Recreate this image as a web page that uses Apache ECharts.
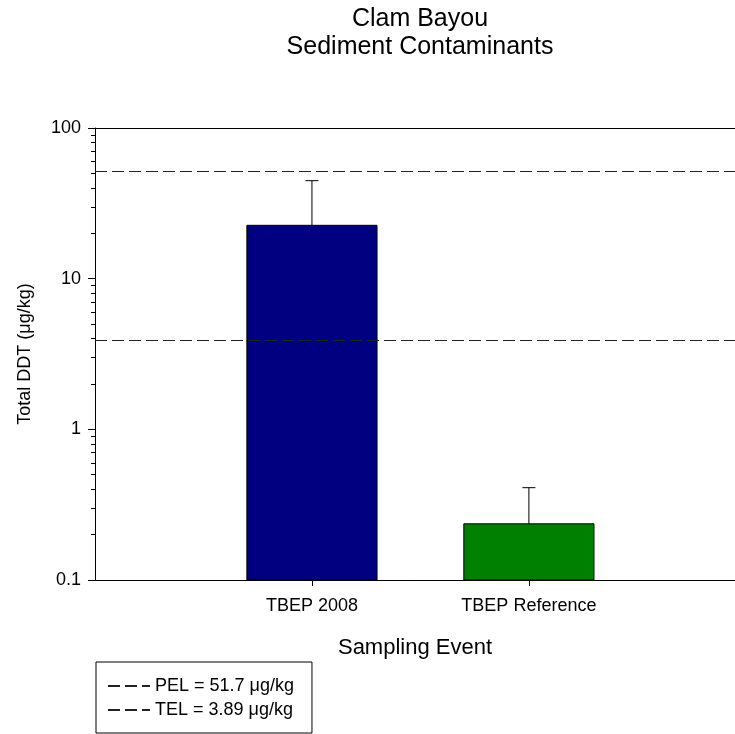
<!DOCTYPE html>
<html>
<head>
<meta charset="utf-8">
<script src="https://cdn.jsdelivr.net/npm/echarts@6/dist/echarts.min.js"></script>
<style>
  html, body { margin: 0; padding: 0; background: #fff; }
  #main { width: 735px; height: 734px; }
</style>
</head>
<body>
<div id="main"></div>
<script>
// data
var categories = ['TBEP 2008', 'TBEP Reference'];
var catPos = [1, 2];
var ddtMean = [22.6, 0.236];
var ddtUpper = [44.7, 0.41];
var barColors = ['#000080', '#008000'];
var pelValue = 51.7;
var telValue = 3.89;
var yMajorTicks = [0.1, 1, 10, 100];
var yMinorTicks = [0.2, 0.3, 0.4, 0.5, 0.6, 0.7, 0.8, 0.9,
                   2, 3, 4, 5, 6, 7, 8, 9,
                   20, 30, 40, 50, 60, 70, 80, 90];

var font = '"Liberation Sans", Arial, sans-serif';

var barData = [];
catPos.forEach(function (p, i) {
    barData.push([p, ddtMean[i], ddtUpper[i]]);
});

// bars + upper error bars, drawn down to the bottom of the grid (log axis)
function renderBar(params, api) {
    var x = api.value(0);
    var v = api.value(1);
    var up = api.value(2);
    var left = api.coord([x - 0.3, v]);
    var right = api.coord([x + 0.3, v]);
    var top = api.coord([x, up]);
    var bottom = params.coordSys.y + params.coordSys.height;
    return {
        type: 'group',
        children: [
            {
                type: 'rect',
                shape: { x: left[0], y: left[1], width: right[0] - left[0], height: bottom - left[1] },
                style: { fill: barColors[params.dataIndex], stroke: '#000', lineWidth: 1 }
            },
            {
                type: 'line',
                shape: { x1: top[0], y1: left[1], x2: top[0], y2: top[1] },
                style: { stroke: '#000', lineWidth: 1 }
            },
            {
                type: 'line',
                shape: { x1: top[0] - 6.5, y1: top[1], x2: top[0] + 6.5, y2: top[1] },
                style: { stroke: '#000', lineWidth: 1 }
            }
        ]
    };
}

var dashStyle = { color: '#222', width: 1.2, type: [12, 5] };

var option = {
    animation: false,
    backgroundColor: '#fff',
    textStyle: { fontFamily: font, color: '#000' },
    title: {
        text: 'Clam Bayou\nSediment Contaminants',
        left: 420,
        top: 5,
        padding: 0,
        textAlign: 'center',
        textStyle: { fontFamily: font, fontSize: 25, fontWeight: 'normal', color: '#000', lineHeight: 28 }
    },
    legend: {
        orient: 'vertical',
        left: 96,
        top: 662,
        padding: [15, 18, 14, 11],
        itemGap: 6,
        itemWidth: 42,
        itemHeight: 18,
        borderColor: '#000',
        borderWidth: 1,
        itemStyle: { opacity: 0 },
        data: ['PEL = 51.7 μg/kg', 'TEL = 3.89 μg/kg'],
        textStyle: { fontFamily: font, fontSize: 18, color: '#000' }
    },
    grid: {
        left: 95,
        top: 128,
        right: 0,
        bottom: 154
    },
    xAxis: [
        {
            type: 'value',
            min: 0,
            max: 2.95,
            name: 'Sampling Event',
            nameLocation: 'middle',
            nameGap: 57,
            nameTextStyle: { fontFamily: font, fontSize: 22, color: '#000' },
            axisLine: { lineStyle: { color: '#000', width: 1 } },
            axisTick: { customValues: catPos, length: 6, lineStyle: { color: '#000' } },
            axisLabel: {
                customValues: catPos,
                margin: 17,
                fontFamily: font,
                fontSize: 18,
                color: '#000',
                formatter: function (v) { return categories[catPos.indexOf(v)] || ''; }
            },
            splitLine: { show: false }
        },
        {
            // top frame line only
            type: 'value',
            position: 'top',
            min: 0,
            max: 2.95,
            axisLine: { show: true, lineStyle: { color: '#000', width: 1 } },
            axisTick: { show: false },
            axisLabel: { show: false },
            splitLine: { show: false }
        }
    ],
    yAxis: [
        {
            type: 'log',
            logBase: 10,
            min: 0.1,
            max: 100,
            name: 'Total DDT (μg/kg)',
            nameLocation: 'middle',
            nameGap: 61,
            nameTextStyle: { fontFamily: font, fontSize: 18, color: '#000' },
            axisLine: { show: true, lineStyle: { color: '#000', width: 1 } },
            axisTick: { customValues: yMajorTicks, length: 7, lineStyle: { color: '#000' } },
            axisLabel: {
                customValues: yMajorTicks,
                margin: 14,
                fontFamily: font,
                fontSize: 18,
                color: '#000',
                formatter: function (v) { return String(+v.toPrecision(3)); }
            },
            splitLine: { show: false }
        },
        {
            // minor ticks only
            type: 'log',
            logBase: 10,
            min: 0.1,
            max: 100,
            position: 'left',
            axisLine: { show: false },
            axisTick: { customValues: yMinorTicks, length: 4, lineStyle: { color: '#000' } },
            axisLabel: { show: false },
            splitLine: { show: false }
        }
    ],
    series: [
        {
            name: 'PEL = 51.7 μg/kg',
            type: 'line',
            data: [],
            symbol: 'none',
            lineStyle: dashStyle,
            itemStyle: { color: '#222' },
            markLine: {
                silent: true,
                symbol: 'none',
                label: { show: false },
                lineStyle: dashStyle,
                data: [{ yAxis: pelValue }]
            }
        },
        {
            name: 'TEL = 3.89 μg/kg',
            type: 'line',
            data: [],
            symbol: 'none',
            lineStyle: dashStyle,
            itemStyle: { color: '#222' },
            markLine: {
                silent: true,
                symbol: 'none',
                label: { show: false },
                lineStyle: dashStyle,
                data: [{ yAxis: telValue }]
            }
        },
        {
            name: 'Total DDT',
            type: 'custom',
            renderItem: renderBar,
            encode: { x: 0, y: 1 },
            data: barData,
            z: 3
        }
    ]
};

var chart = echarts.init(document.getElementById('main'));
chart.setOption(option);
</script>
</body>
</html>
